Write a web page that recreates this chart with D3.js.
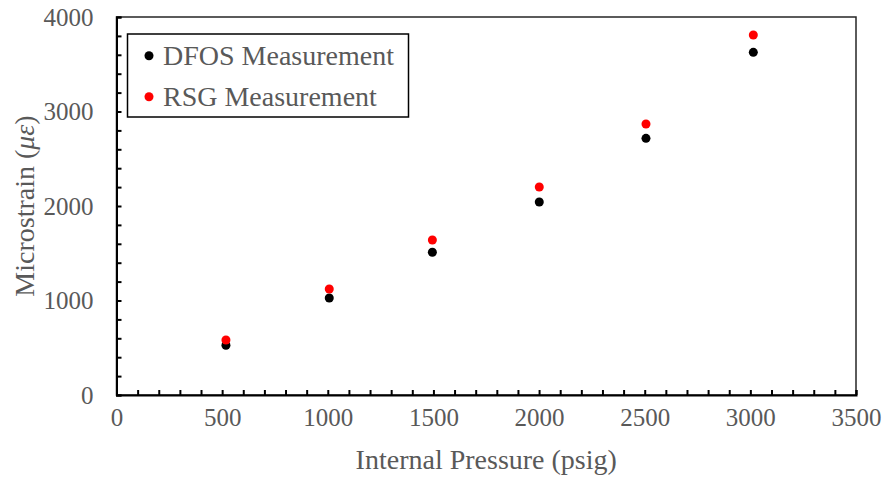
<!DOCTYPE html>
<html>
<head>
<meta charset="utf-8">
<script src="https://cdn.jsdelivr.net/npm/d3@7"></script>
<style>
  body { margin: 0; background: #fff; }
  svg { display: block; }
  text { font-family: "Liberation Serif", "Times New Roman", serif; fill: #595959; }
</style>
</head>
<body>
<svg id="chart"></svg>
<script>
// pressures (psig) and strain readings (microstrain)
const pressure = [518, 1007, 1495, 2001, 2506, 3014];
const dfos = [526, 1026, 1510, 2042, 2716, 3626];
const rsg = [582, 1122, 1640, 2201, 2868, 3810];
const seriesNames = ["DFOS Measurement", "RSG Measurement"];
const seriesColors = ["#000000", "#ff0000"];

const width = 884;
const height = 477;
const margin = {top: 17, right: 28, bottom: 82, left: 116.5};

const svg = d3.select("#chart")
  .attr("width", width)
  .attr("height", height);

const x = d3.scaleLinear()
  .domain([0, 3500])
  .range([margin.left, width - margin.right]);
const y = d3.scaleLinear()
  .domain([0, 4000])
  .range([height - margin.bottom, margin.top]);

// frame
svg.append("rect")
  .attr("x", x(0))
  .attr("y", y(4000))
  .attr("width", x(3500) - x(0))
  .attr("height", y(0) - y(4000))
  .attr("fill", "none")
  .attr("stroke", "#262626")
  .attr("stroke-width", 1.5);

const xAxis = g => g
  .attr("transform", `translate(0,${y(0)})`)
  .call(d3.axisBottom(x)
    .tickValues(d3.range(0, 3501, 100))
    .tickSize(-5)
    .tickPadding(13)
    .tickFormat(d => d % 500 === 0 ? d : ""))
  .call(g => g.selectAll("line, path").attr("stroke", "#000").attr("stroke-width", 2))
  .call(g => g.selectAll("text").style("font-size", "25px").attr("fill", "#595959"));

const yAxis = g => g
  .attr("transform", `translate(${x(0)},0)`)
  .call(d3.axisLeft(y)
    .tickValues(d3.range(0, 4001, 200))
    .tickSize(-5)
    .tickPadding(23)
    .tickFormat(d => d % 1000 === 0 ? d : ""))
  .call(g => g.selectAll("line, path").attr("stroke", "#000").attr("stroke-width", 2))
  .call(g => g.selectAll("text").style("font-size", "25px").attr("fill", "#595959"));

svg.append("g").call(xAxis);
svg.append("g").call(yAxis);

// axis titles
svg.append("text")
  .attr("x", (x(0) + x(3500)) / 2)
  .attr("y", 469)
  .attr("text-anchor", "middle")
  .style("font-size", "28px")
  .text("Internal Pressure (psig)");

const yTitle = svg.append("text")
  .attr("transform", `translate(34,${(y(0) + y(4000)) / 2}) rotate(-90)`)
  .attr("text-anchor", "middle")
  .style("font-size", "28px");
yTitle.append("tspan").text("Microstrain (");
yTitle.append("tspan").attr("font-style", "italic").text("με");
yTitle.append("tspan").text(")");

// points
const series = [dfos, rsg];
series.forEach((vals, i) => {
  svg.append("g")
    .selectAll("circle")
    .data(vals)
    .join("circle")
    .attr("cx", (d, j) => x(pressure[j]))
    .attr("cy", d => y(d))
    .attr("r", 4.5)
    .attr("fill", seriesColors[i]);
});

// legend
const legend = svg.append("g");
legend.append("rect")
  .attr("x", 127.5)
  .attr("y", 34)
  .attr("width", 281)
  .attr("height", 83)
  .attr("fill", "#fff")
  .attr("stroke", "#000")
  .attr("stroke-width", 1.5);

seriesNames.forEach((name, i) => {
  const row = legend.append("g").attr("transform", `translate(0,${i * 41})`);
  row.append("circle")
    .attr("cx", 149)
    .attr("cy", 55.7)
    .attr("r", 4.5)
    .attr("fill", seriesColors[i]);
  row.append("text")
    .attr("x", 163)
    .attr("y", 64.5)
    .style("font-size", "28px")
    .text(name);
});
</script>
</body>
</html>
